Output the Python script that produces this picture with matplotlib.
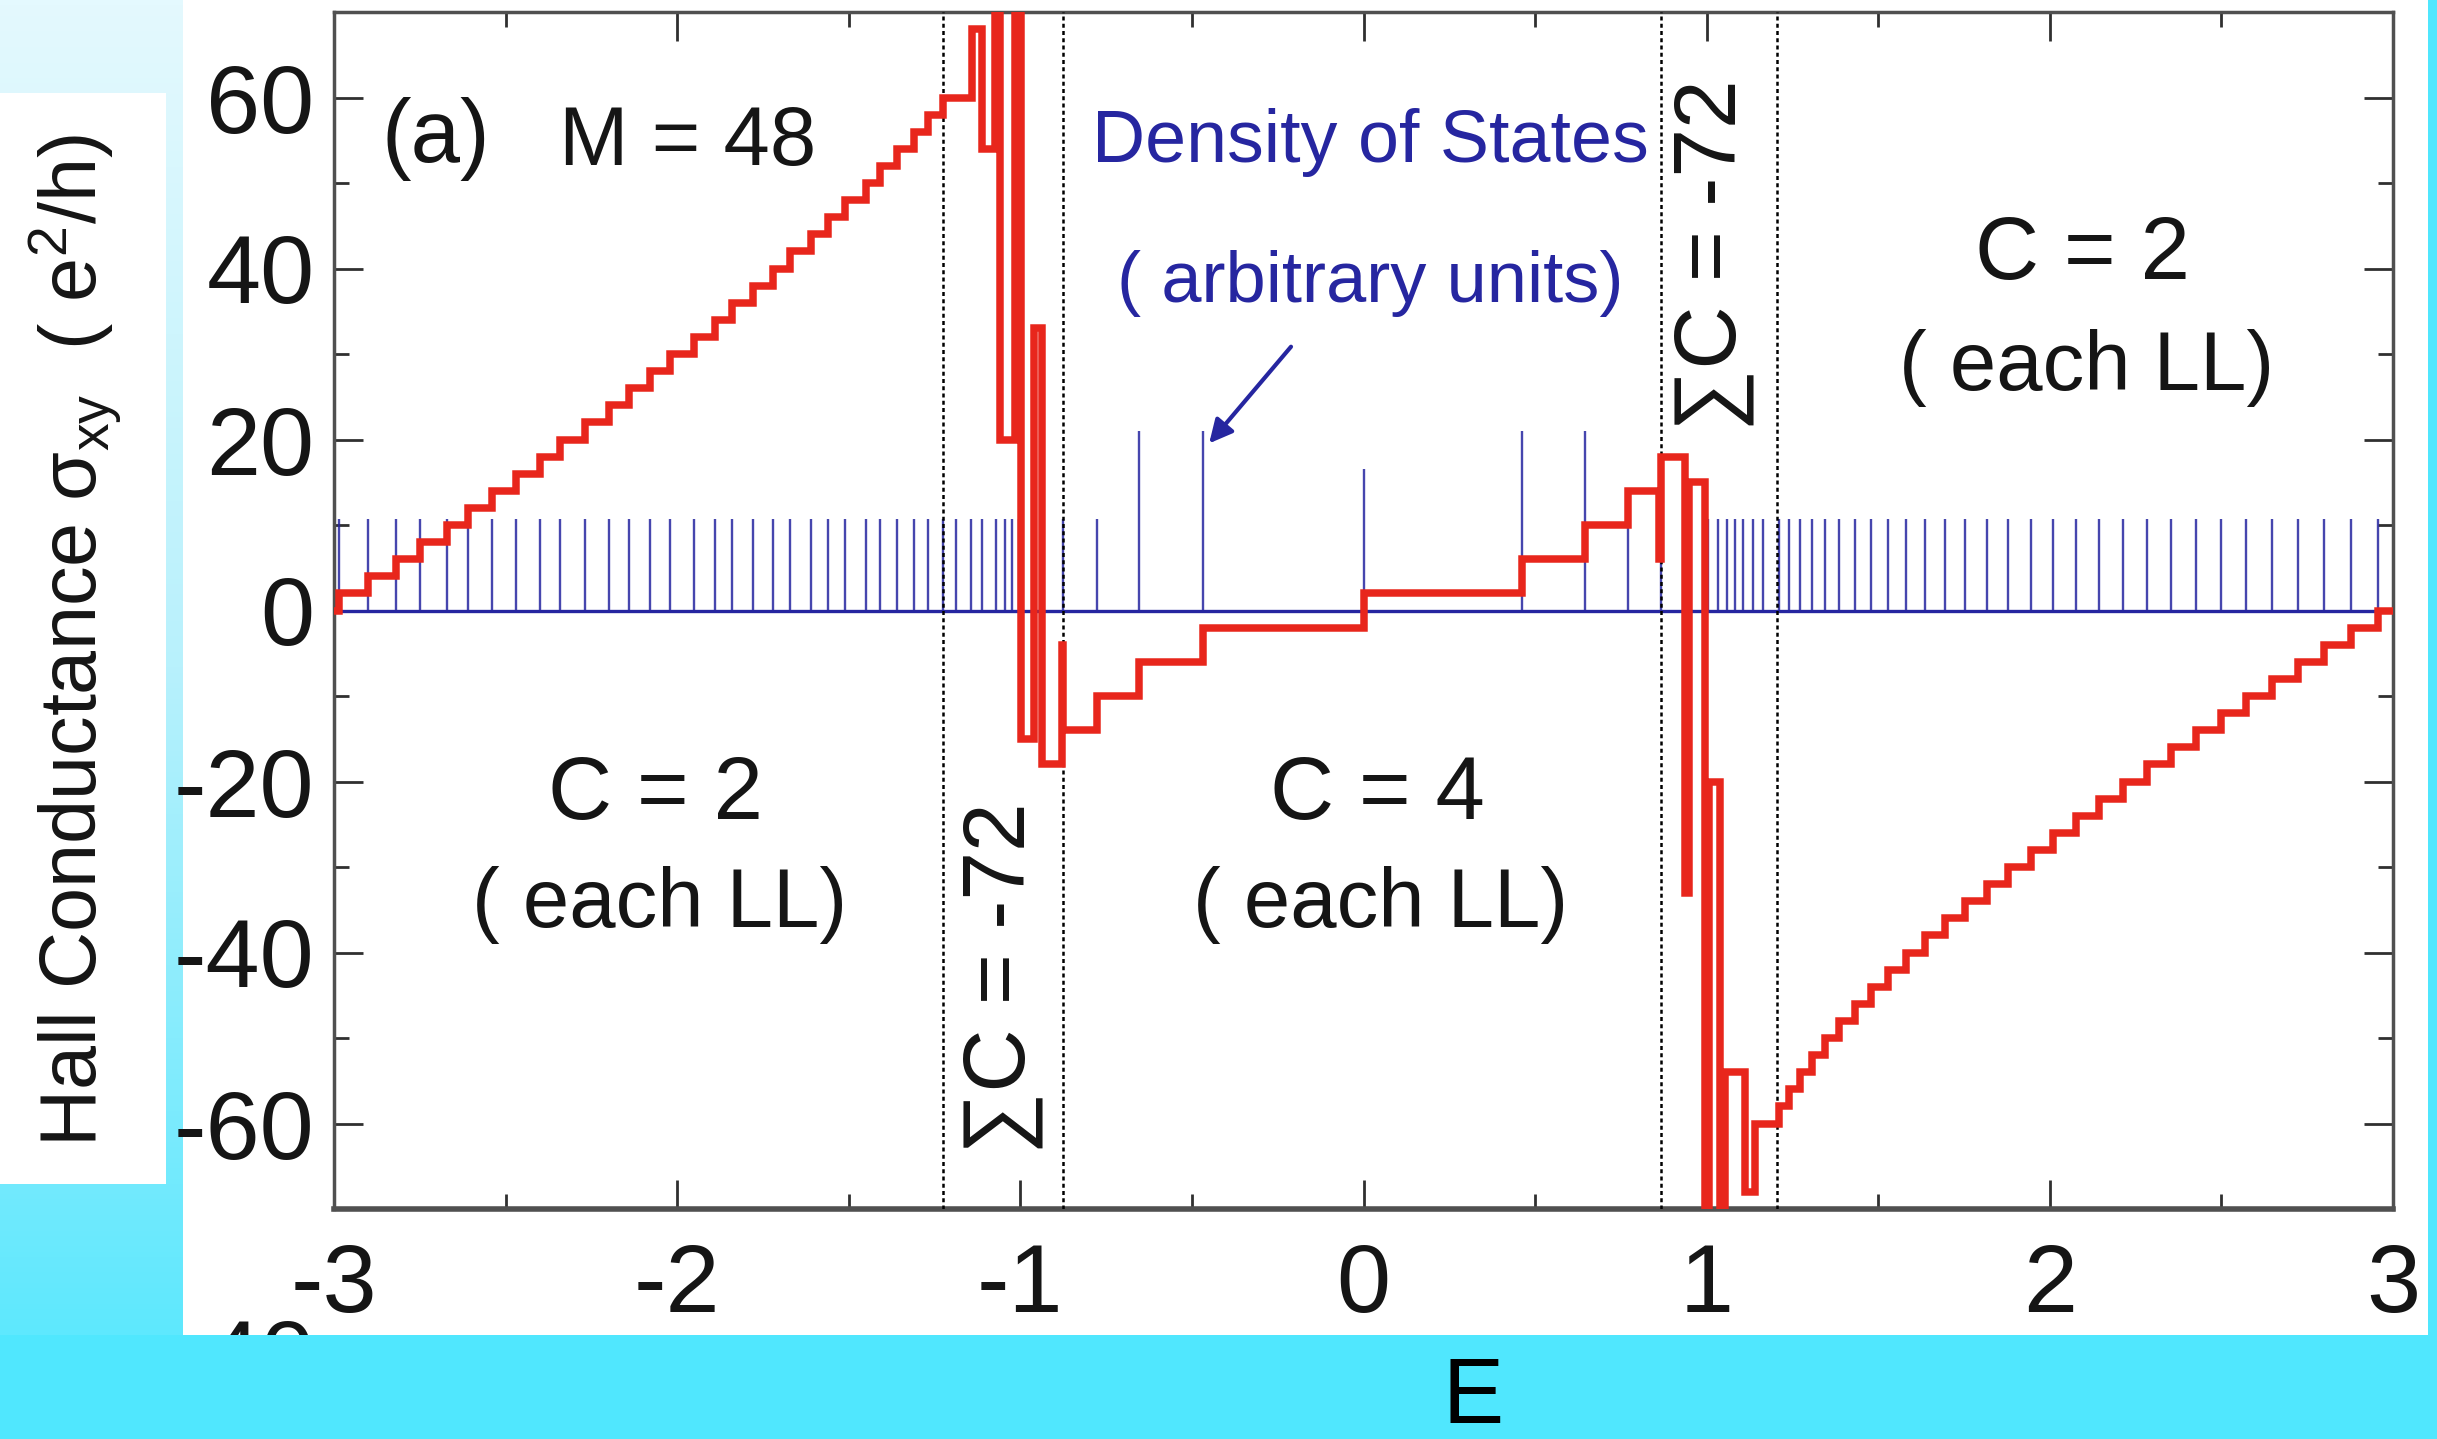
import numpy as np
import matplotlib
matplotlib.use('Agg')
import matplotlib.pyplot as plt
from matplotlib.patches import Rectangle
from matplotlib.ticker import MultipleLocator
from matplotlib.colors import LinearSegmentedColormap
from matplotlib.transforms import Bbox, TransformedBbox

plt.rcParams['font.family'] = ['Liberation Sans', 'DejaVu Sans']
plt.rcParams['axes.unicode_minus'] = False
plt.rcParams['mathtext.fontset'] = 'custom'
plt.rcParams['mathtext.rm'] = 'Liberation Sans'
plt.rcParams['mathtext.it'] = 'Liberation Sans:italic'

# ---- Hall conductance (step function, value after each jump energy) ----
left_stair_E = [-3.0, -2.985, -2.90, -2.82, -2.75, -2.67, -2.61, -2.54, -2.47, -2.40, -2.34,
                -2.27, -2.20, -2.14, -2.08, -2.02, -1.95, -1.89, -1.84, -1.78, -1.72,
                -1.67, -1.61, -1.56, -1.51, -1.45, -1.41, -1.36, -1.31, -1.27, -1.226]
left_stair_S = [0, 2, 4, 6, 8, 10, 12, 14, 16, 18, 20, 22, 24, 26, 28, 30,
                32, 34, 36, 38, 40, 42, 44, 46, 48, 50, 52, 54, 56, 58, 60]
left_edge_E = [-1.142, -1.113, -1.074, -1.059, -1.016, -0.999, -0.960, -0.938, -0.880, -0.876]
left_edge_S = [68, 54, 90, 20, 90, -15, 33, -18, -4, -14]
mid_E = [-0.778, -0.654, -0.469, 0.0, 0.463, 0.645, 0.770, 0.862, 0.866]
mid_S = [-10, -6, -2, 2, 6, 10, 14, 6, 18]
right_edge_E = [0.937, 0.948, 0.995, 1.007, 1.038, 1.053, 1.111, 1.140]
right_edge_S = [-33, 15, -90, -20, -90, -54, -68, -60]
right_stair_E = [1.211, 1.241, 1.273, 1.308, 1.346, 1.387, 1.431, 1.478, 1.528, 1.582,
                 1.637, 1.695, 1.754, 1.816, 1.879, 1.944, 2.010, 2.076, 2.144, 2.213,
                 2.283, 2.354, 2.425, 2.498, 2.572, 2.647, 2.723, 2.800, 2.878, 2.957, 3.0]
right_stair_S = [-58, -56, -54, -52, -50, -48, -46, -44, -42, -40, -38, -36, -34, -32, -30,
                 -28, -26, -24, -22, -20, -18, -16, -14, -12, -10, -8, -6, -4, -2, 0, 0]

# ---- density of states (Landau level positions and heights) ----
left_cluster_E = [-1.188, -1.145, -1.112, -1.070, -1.045, -1.025, -1.005]
right_cluster_E = [1.004, 1.033, 1.058, 1.082, 1.106, 1.135, 1.165]
dos_mid_E = [-0.876, -0.778, -0.654, -0.469, 0.0, 0.463, 0.645, 0.770, 0.866]
dos_mid_h = [10.7, 10.7, 21, 21, 16.5, 21, 21, 10.7, 10.7]
dos_outer_h = 10.7

boundaries = [-1.226, -0.875, 0.866, 1.205]

RED = '#e8261c'
BLUE = '#2626a0'
TXT = '#151515'
CYAN = '#50e7fe'

W, H = 2437, 1439
fig = plt.figure(figsize=(W / 100, H / 100), dpi=100, facecolor=CYAN)


def box(x0, y0, x1, y1):
    # pixel box (top-down y) -> figure fraction rect
    return [x0 / W, 1 - y1 / H, (x1 - x0) / W, (y1 - y0) / H]


# background panels
gax = fig.add_axes(box(0, 0, 183, 1335), zorder=-3)
gcm = LinearSegmentedColormap.from_list('g', ['#e4f9fe', '#b8f1fc', '#5ee8fe'])
gax.imshow(np.linspace(0, 1, 256)[:, None], cmap=gcm, aspect='auto')
gax.axis('off')
for r in (box(0, 93, 166, 1184), box(183, 0, 2428, 1335)):
    fig.add_artist(Rectangle((r[0], r[1]), r[2], r[3], transform=fig.transFigure,
                             facecolor='white', edgecolor='none', zorder=-2))

ax = fig.add_axes(box(334, 12, 2393, 1209), zorder=1)
ax.set_facecolor('none')

# DOS
ax.hlines(0, -3, 3, color=BLUE, lw=2.4, zorder=2)
ax.vlines(left_stair_E[1:] + left_cluster_E, 0, dos_outer_h, color=BLUE, lw=1.7, alpha=0.85, zorder=2)
ax.vlines(right_cluster_E + right_stair_E[:-1], 0, dos_outer_h, color=BLUE, lw=1.7, alpha=0.85, zorder=2)
ax.vlines(dos_mid_E, 0, dos_mid_h, color=BLUE, lw=1.7, alpha=0.85, zorder=2)

# boundaries
for b in boundaries:
    ax.axvline(b, color='black', lw=1.8, ls=(0, (1.6, 1.3)), zorder=3)

# Hall conductance
E = left_stair_E + left_edge_E + mid_E + right_edge_E + right_stair_E
S = left_stair_S + left_edge_S + mid_S + right_edge_S + right_stair_S
ax.step(E, S, where='post', color=RED, lw=5.4, zorder=4, solid_joinstyle='miter')

ax.set_xlim(-3, 3)
ax.set_ylim(-70, 70)
ax.xaxis.set_major_locator(MultipleLocator(1))
ax.xaxis.set_minor_locator(MultipleLocator(0.5))
ax.yaxis.set_major_locator(MultipleLocator(20))
ax.yaxis.set_minor_locator(MultipleLocator(10))
ax.tick_params(which='both', direction='in', top=True, right=True, width=2, color='#303030')
ax.tick_params(which='major', length=21)
ax.tick_params(which='minor', length=11)
ax.tick_params(axis='x', labelsize=70, pad=24, labelcolor=TXT)
ax.tick_params(axis='y', labelsize=70, pad=14, labelcolor=TXT)
for side, sp in ax.spines.items():
    sp.set_color('#505050')
    sp.set_linewidth(4 if side == 'bottom' else 2.5)

# annotations
ax.text(-2.863, 55.2, '(a)', fontsize=64, color=TXT, ha='left', va='center')
ax.text(-2.344, 54.7, 'M = 48', fontsize=60, color=TXT, ha='left', va='center')
ax.text(0.02, 54.7, 'Density of States', fontsize=53, color=BLUE, ha='center', va='center')
ax.text(0.02, 38.3, '( arbitrary units)', fontsize=52, color=BLUE, ha='center', va='center')
ax.annotate('', xy=(-0.455, 19.3), xytext=(-0.206, 31.1),
            arrowprops=dict(arrowstyle='-|>', color=BLUE, lw=3, mutation_scale=35))
for (x, y1, y2, t) in [(-2.062, -21.7, -34.4, 'C = 2'), (0.04, -21.7, -34.4, 'C = 4'),
                       (2.096, 41.5, 28.4, 'C = 2')]:
    ax.text(x, y1, t, fontsize=64, color=TXT, ha='center', va='center')
    ax.text(x + 0.01, y2, '( each LL)', fontsize=60, color=TXT, ha='center', va='center')
for (x, y) in [(-1.051, -43.0), (1.021, 41.5)]:
    ax.text(x, y, '\u2211C = -72', fontsize=63, color=TXT, rotation=90,
            ha='center', va='center')

fig.text(75 / W, 1 - 640 / H, 'Hall Conductance \u03c3$_{\\mathrm{xy}}$  ( e$^{2}$/h)',
         rotation=90, ha='center', va='center', fontsize=57, color=TXT)
fig.text(1473 / W, 1 - 1399 / H, 'E', ha='center', va='center', fontsize=66, color='black')

# stray label cut off by the bottom band
t = fig.text(315 / W, 1 - 1318 / H, '-40', ha='right', va='top', fontsize=70, color=TXT)
t.set_clip_box(TransformedBbox(Bbox.from_extents(183 / W, 1 - 1335 / H, 1, 1), fig.transFigure))

fig.savefig('out.png', dpi=100, facecolor=fig.get_facecolor())
